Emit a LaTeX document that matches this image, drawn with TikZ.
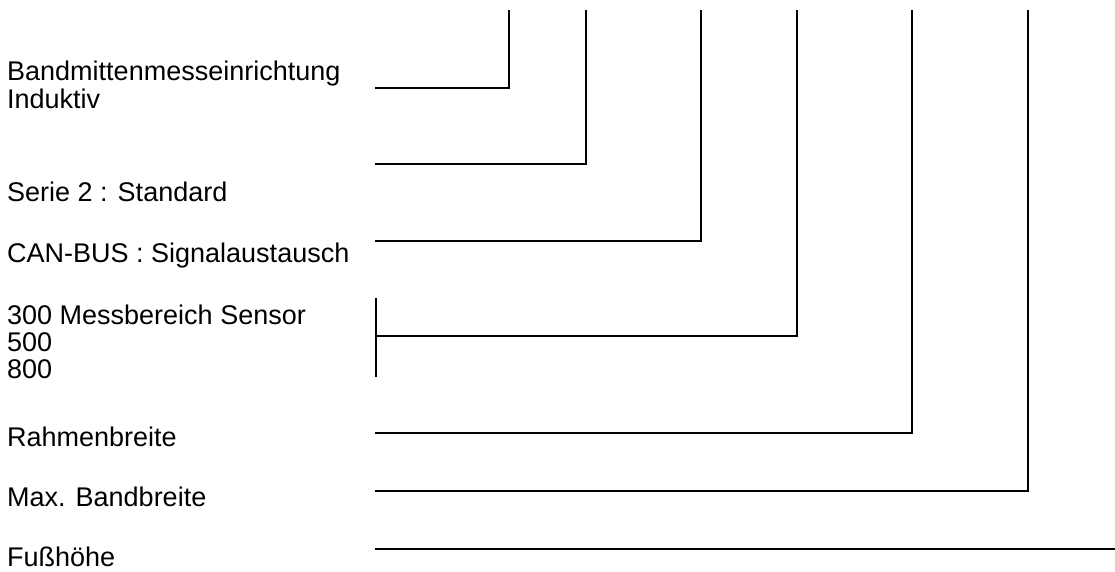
\documentclass[tikz,border=0pt]{standalone}
\usepackage{fontspec}
\setmainfont{Liberation Sans}
\usetikzlibrary{positioning}

\begin{document}
\begin{tikzpicture}[
  x=1pt, y=-1pt,
  font=\fontsize{27}{30}\selectfont,
  lbl/.style={anchor=base west, inner sep=0pt},
  lead/.style={line width=1.6pt}]
  \useasboundingbox (0,0) rectangle (1115,571);
  % labels
  \node[lbl] (bm) at (7,80) {Bandmittenmesseinrichtung};
  \node[lbl] (ind) at (7,108) {Induktiv};
  \node[lbl] (serie) at (7,201) {Serie 2 : Standard};
  \node[lbl] (can) at (7,262) {CAN-BUS : Signalaustausch};
  \node[lbl] (mb) at (7,324) {300 Messbereich Sensor};
  \node[lbl] (m5) at (7,351) {500};
  \node[lbl] (m8) at (7,378) {800};
  \node[lbl] (rb) at (7,446) {Rahmenbreite};
  \node[lbl] (bb) at (7,506) {Max. Bandbreite};
  \node[lbl] (fh) at (7,566) {Fußhöhe};
  % leader ends
  \coordinate (s1) at (375,88);   \coordinate (t1) at (509,10);
  \coordinate (s2) at (375,164);  \coordinate (t2) at (586,10);
  \coordinate (s3) at (375,241);  \coordinate (t3) at (701,10);
  \coordinate (s4) at (376,336);  \coordinate (t4) at (797,10);
  \coordinate (s5) at (375,433);  \coordinate (t5) at (912,10);
  \coordinate (s6) at (375,491);  \coordinate (t6) at (1028,10);
  \coordinate (s7) at (375,549);  \coordinate (t7) at (1115,549);
  \coordinate (ba) at (376,298);  \coordinate (bz) at (376,377);
  % leaders
  \draw[lead] (s1) -| (t1);
  \draw[lead] (s2) -| (t2);
  \draw[lead] (s3) -| (t3);
  \draw[lead] (s4) -| (t4);
  \draw[lead] (s5) -| (t5);
  \draw[lead] (s6) -| (t6);
  \draw[lead] (s7) -- (t7);
  \draw[lead] (ba) -- (bz);
\end{tikzpicture}
\end{document}
